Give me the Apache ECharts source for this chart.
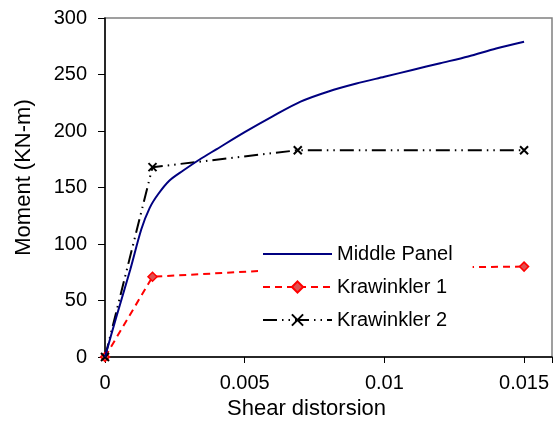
<!DOCTYPE html>
<html>
<head>
<meta charset="utf-8">
<script src="https://cdn.jsdelivr.net/npm/echarts@6/dist/echarts.min.js"></script>
<style>
  html, body { margin: 0; padding: 0; background: #fff; }
  #chart { width: 555px; height: 421px; }
</style>
</head>
<body>
<div id="chart"></div>
<script>
// shear distorsion / moment (KN-m)
const middleX = [0, 0.0004, 0.0009, 0.0013, 0.0016, 0.0019, 0.0023, 0.0028, 0.0034, 0.004, 0.005, 0.006, 0.007, 0.008, 0.009, 0.01, 0.011, 0.012, 0.013, 0.014, 0.015];
const middleY = [0, 35, 77, 113, 132, 144, 156, 165, 175, 184, 199, 213, 226, 235, 242, 248, 254, 260, 266, 273, 279];

const kraw1X = [0, 0.0017, 0.0069, 0.015];
const kraw1Y = [0, 71, 78, 80];

const kraw2X = [0, 0.0017, 0.0069, 0.015];
const kraw2Y = [0, 168, 183, 183];

const seriesNames = ['Middle Panel', 'Krawinkler 1', 'Krawinkler 2'];

const pairs = (xs, ys) => xs.map((x, i) => [x, ys[i]]);
const crossPath = 'path://M0 0L10 10M10 0L0 10';

const chart = echarts.init(document.getElementById('chart'));
chart.setOption({
  animation: false,
  textStyle: { fontFamily: 'Liberation Sans, Arial, sans-serif', color: '#000' },
  grid: {
    left: 105, top: 18, right: 3, bottom: 64,
    outerBoundsMode: 'none',
    show: true, borderColor: '#808080', borderWidth: 1.5
  },
  legend: {
    data: [
      { name: seriesNames[0], itemStyle: { opacity: 0 } },
      { name: seriesNames[1] },
      { name: seriesNames[2] }
    ],
    orient: 'vertical',
    left: 258, top: 242,
    itemWidth: 69, itemHeight: 14,
    itemGap: 13,
    backgroundColor: '#fff',
    padding: [2, 20, 2, 4],
    textStyle: { fontSize: 20, color: '#000', padding: [0, 0, 0, 0] },
    z: 10
  },
  xAxis: {
    type: 'value',
    min: 0, max: 0.016, interval: 0.005,
    name: 'Shear distorsion',
    nameLocation: 'middle',
    nameGap: 37,
    nameTextStyle: { fontSize: 22, color: '#000', padding: [0, 44, 0, 0] },
    axisLine: { lineStyle: { color: '#000', width: 1.5 } },
    axisTick: { show: true, length: 6, lineStyle: { color: '#000' } },
    axisLabel: {
      fontSize: 20, color: '#000', margin: 16,
      formatter: v => (Math.abs(v / 0.005 - Math.round(v / 0.005)) < 1e-6 ? String(+v.toFixed(3)) : '')
    },
    splitLine: { show: false }
  },
  yAxis: {
    type: 'value',
    min: 0, max: 300, interval: 50,
    name: 'Moment (KN-m)',
    nameLocation: 'middle',
    nameGap: 70,
    nameTextStyle: { fontSize: 22, color: '#000', padding: [0, 0, 0, 20] },
    axisLine: { show: true, lineStyle: { color: '#000', width: 1.5 } },
    axisTick: { show: true, length: 7, lineStyle: { color: '#000' } },
    axisLabel: { fontSize: 20, color: '#000', margin: 18 },
    splitLine: { show: false }
  },
  series: [
    {
      name: seriesNames[0],
      type: 'line',
      data: pairs(middleX, middleY),
      smooth: 0.3,
      showSymbol: false,
      symbol: 'circle',
      lineStyle: { color: '#000080', width: 2 },
      itemStyle: { color: '#000080' },
      z: 3
    },
    {
      name: seriesNames[1],
      type: 'line',
      data: pairs(kraw1X, kraw1Y),
      symbol: 'diamond',
      symbolSize: 9,
      lineStyle: { color: '#ff0000', width: 2, type: [7, 5] },
      itemStyle: { color: '#e05050', borderColor: '#ff0000', borderWidth: 1.5 },
      z: 2
    },
    {
      name: seriesNames[2],
      type: 'line',
      data: pairs(kraw2X, kraw2Y),
      symbol: crossPath,
      symbolSize: 8,
      lineStyle: { color: '#000', width: 2, type: [14, 5, 1.5, 5, 1.5, 5] },
      itemStyle: { color: '#000', borderColor: '#000', borderWidth: 2 },
      z: 2
    }
  ]
});
</script>
</body>
</html>
